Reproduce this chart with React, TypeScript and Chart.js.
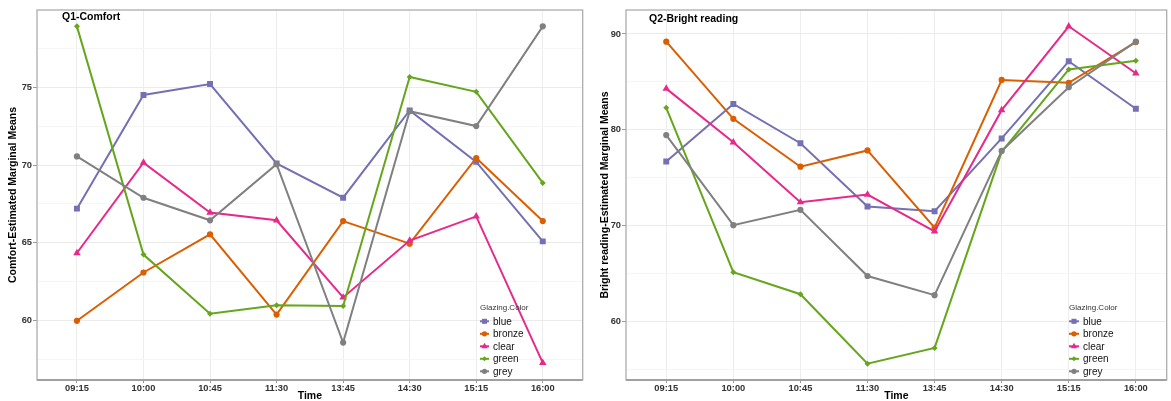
import React, { useEffect, useRef } from "react";
import { Chart, registerables } from "chart.js";

Chart.register(...registerables);

// ---------- data ----------
const times = ["09:15", "10:00", "10:45", "11:30", "13:45", "14:30", "15:15", "16:00"];
const seriesNames = ["blue", "bronze", "clear", "green", "grey"];

const comfortBlue = [67.2, 74.5, 75.2, 70.1, 67.9, 73.5, 70.2, 65.1];
const comfortBronze = [60.0, 63.1, 65.55, 60.4, 66.4, 64.95, 70.45, 66.4];
const comfortClear = [64.35, 70.15, 66.95, 66.45, 61.5, 65.15, 66.7, 57.3];
const comfortGreen = [78.9, 64.25, 60.45, 61.0, 60.95, 75.65, 74.7, 68.85];
const comfortGrey = [70.55, 67.9, 66.45, 70.05, 58.6, 73.45, 72.5, 78.9];

const brightBlue = [76.7, 82.7, 78.6, 72.0, 71.5, 79.1, 87.15, 82.2];
const brightBronze = [89.2, 81.15, 76.15, 77.85, 69.8, 85.2, 84.9, 89.15];
const brightClear = [84.3, 78.7, 72.45, 73.25, 69.4, 82.05, 90.8, 85.9];
const brightGreen = [82.3, 65.15, 62.85, 55.6, 57.25, 77.7, 86.3, 87.2];
const brightGrey = [79.45, 70.05, 71.65, 64.75, 62.75, 77.8, 84.45, 89.2];

const comfortMajorTicks = [60, 65, 70, 75];
const comfortMinorTicks = [57.5, 62.5, 67.5, 72.5, 77.5];
const brightMajorTicks = [60, 70, 80, 90];
const brightMinorTicks = [55, 65, 75, 85];

// ---------- styles ----------
const FONT = '"Liberation Sans", Arial, sans-serif';
const colors: Record<string, string> = {
  blue: "#7570B3",
  bronze: "#D95F02",
  clear: "#E7298A",
  green: "#66A61E",
  grey: "#808080",
};
const shapes: Record<string, string> = {
  blue: "rect",
  bronze: "circle",
  clear: "triangle",
  green: "rectRot",
  grey: "circle",
};
const radii: Record<string, number> = { blue: 4.2, bronze: 3.1, clear: 4.3, green: 3, grey: 3.1 };

function drawMarker(ctx: CanvasRenderingContext2D, style: string, x: number, y: number, r: number) {
  ctx.beginPath();
  if (style === "rect") {
    const s = Math.SQRT1_2 * r;
    ctx.rect(x - s, y - s, 2 * s, 2 * s);
  } else if (style === "triangle") {
    const h = r * 1.5;
    const side = r * Math.sqrt(3);
    ctx.moveTo(x - side / 2, y + h / 3);
    ctx.lineTo(x, y - (2 * h) / 3);
    ctx.lineTo(x + side / 2, y + h / 3);
    ctx.closePath();
  } else if (style === "rectRot") {
    ctx.moveTo(x - r, y);
    ctx.lineTo(x, y - r);
    ctx.lineTo(x + r, y);
    ctx.lineTo(x, y + r);
    ctx.closePath();
  } else {
    ctx.arc(x, y, r, 0, Math.PI * 2);
  }
  ctx.fill();
}

type PanelSpec = {
  title: string;
  titleX: number;
  titleY: number;
  yTitle: string;
  yTitleX: number;
  series: number[][];
  major: number[];
  minor: number[];
  yMin: number;
  yMax: number;
  xMin: number;
  xMax: number;
  yWidth: number;
  padRight: number;
  legendX: number;
  legendLabelX: number;
  legendKeyW: number;
};

function makeChart(canvas: HTMLCanvasElement, p: PanelSpec) {
  const isMajor = (v: number) => p.major.some((m) => Math.abs(m - v) < 1e-6);
  const datasets = seriesNames.map((name, i) => ({
    label: name,
    data: p.series[i].map((v, j) => ({ x: j, y: v })),
    borderColor: colors[name],
    backgroundColor: colors[name],
    borderWidth: 2,
    pointStyle: shapes[name] as any,
    pointRadius: radii[name],
    pointBorderWidth: 0,
    pointBackgroundColor: colors[name],
    order: seriesNames.length - i,
    tension: 0,
  }));

  const decor = {
    id: "decor",
    afterDraw(chart: any) {
      const ctx: CanvasRenderingContext2D = chart.ctx;
      const a = chart.chartArea;
      ctx.save();
      // panel frame
      ctx.strokeStyle = "#ADADAD";
      ctx.lineWidth = 1.3;
      ctx.strokeRect(a.left, a.top, a.right - a.left, a.bottom - a.top);
      ctx.strokeStyle = "#A0A0A0";
      ctx.lineWidth = 2;
      ctx.beginPath();
      ctx.moveTo(a.left, a.bottom);
      ctx.lineTo(a.right, a.bottom);
      ctx.stroke();

      // panel title
      ctx.fillStyle = "#000";
      ctx.font = `bold 10.5px ${FONT}`;
      ctx.textBaseline = "middle";
      ctx.textAlign = "left";
      ctx.fillText(p.title, p.titleX, p.titleY);

      // x title
      ctx.textAlign = "center";
      ctx.fillText("Time", (a.left + a.right) / 2, 396);

      // y title
      ctx.save();
      ctx.translate(p.yTitleX, (a.top + a.bottom) / 2);
      ctx.rotate(-Math.PI / 2);
      ctx.textAlign = "center";
      ctx.fillText(p.yTitle, 0, 0);
      ctx.restore();

      // legend
      ctx.textAlign = "left";
      ctx.fillStyle = "#333";
      ctx.font = `8px ${FONT}`;
      ctx.fillText("Glazing.Color", p.legendX, 308);
      ctx.font = `10px ${FONT}`;
      seriesNames.forEach((name, i) => {
        const y = 321.3 + i * 12.5;
        ctx.strokeStyle = colors[name];
        ctx.fillStyle = colors[name];
        ctx.lineWidth = 2;
        ctx.beginPath();
        ctx.moveTo(p.legendX, y);
        ctx.lineTo(p.legendX + p.legendKeyW, y);
        ctx.stroke();
        drawMarker(ctx, shapes[name], p.legendX + p.legendKeyW / 2, y, radii[name] * 0.85);
        ctx.fillStyle = "#111";
        ctx.fillText(name, p.legendLabelX, y + 0.5);
      });
      ctx.restore();
    },
  };

  return new Chart(canvas, {
    type: "line",
    data: { datasets: datasets as any },
    plugins: [decor],
    options: {
      animation: false,
      responsive: false,
      devicePixelRatio: 1,
      layout: { padding: { top: 10, right: p.padRight, bottom: 0, left: 0 } },
      plugins: { legend: { display: false }, title: { display: false }, tooltip: { enabled: false } },
      scales: {
        x: {
          type: "linear",
          min: p.xMin,
          max: p.xMax,
          afterBuildTicks: (s: any) => {
            s.ticks = times.map((_, i) => ({ value: i }));
          },
          afterFit: (s: any) => {
            s.height = 21;
            s.paddingLeft = 0;
            s.paddingRight = 0;
          },
          ticks: {
            callback: (_v: any, idx: number) => times[idx],
            font: { family: FONT, size: 9.3, weight: "bold" },
            color: "#333",
            padding: 0,
            maxRotation: 0,
            autoSkip: false,
          },
          grid: { color: "#EDEDED", lineWidth: 1, tickLength: 3, tickColor: "#9A9A9A" },
          border: { display: false },
        },
        y: {
          type: "linear",
          min: p.yMin,
          max: p.yMax,
          afterBuildTicks: (s: any) => {
            s.ticks = [...p.minor, ...p.major].sort((a, b) => a - b).map((v) => ({ value: v }));
          },
          afterFit: (s: any) => {
            s.width = p.yWidth;
            s.paddingTop = 0;
            s.paddingBottom = 0;
          },
          ticks: {
            callback: (v: any) => (isMajor(Number(v)) ? String(v) : ""),
            font: { family: FONT, size: 9.3, weight: "bold" },
            color: "#333",
            padding: 1,
            autoSkip: false,
          },
          grid: {
            color: (c: any) => (c.tick && isMajor(c.tick.value) ? "#EBEBEB" : "#F5F5F5"),
            tickColor: (c: any) => (c.tick && isMajor(c.tick.value) ? "#9A9A9A" : "rgba(0,0,0,0)"),
            lineWidth: 1,
            tickLength: 4,
          },
          border: { display: false },
        },
      },
    } as any,
  });
}

export default function App() {
  const leftRef = useRef<HTMLCanvasElement | null>(null);
  const rightRef = useRef<HTMLCanvasElement | null>(null);

  useEffect(() => {
    if (!leftRef.current || !rightRef.current) return;
    const c1 = makeChart(leftRef.current, {
      title: "Q1-Comfort",
      titleX: 62,
      titleY: 17.5,
      yTitle: "Comfort-Estimated Marginal Means",
      yTitleX: 13,
      series: [comfortBlue, comfortBronze, comfortClear, comfortGreen, comfortGrey],
      major: comfortMajorTicks,
      minor: comfortMinorTicks,
      yMin: 56.2,
      yMax: 79.95,
      xMin: -0.6,
      xMax: 7.6,
      yWidth: 37,
      padRight: 2,
      legendX: 480,
      legendLabelX: 493,
      legendKeyW: 9,
    });
    const c2 = makeChart(rightRef.current, {
      title: "Q2-Bright reading",
      titleX: 62,
      titleY: 19,
      yTitle: "Bright reading-Estimated Marginal Means",
      yTitleX: 18.5,
      series: [brightBlue, brightBronze, brightClear, brightGreen, brightGrey],
      major: brightMajorTicks,
      minor: brightMinorTicks,
      yMin: 53.9,
      yMax: 92.5,
      xMin: -0.6,
      xMax: 7.46,
      yWidth: 39,
      padRight: 4,
      legendX: 482,
      legendLabelX: 496,
      legendKeyW: 10,
    });
    return () => {
      c1.destroy();
      c2.destroy();
    };
  }, []);

  return (
    <div style={{ position: "fixed", left: 0, top: 0, width: 1171, height: 401, background: "#fff", overflow: "hidden" }}>
      <canvas ref={leftRef} width={587} height={401} style={{ position: "absolute", left: 0, top: 0, width: 587, height: 401 }} />
      <canvas ref={rightRef} width={584} height={401} style={{ position: "absolute", left: 587, top: 0, width: 584, height: 401 }} />
    </div>
  );
}
